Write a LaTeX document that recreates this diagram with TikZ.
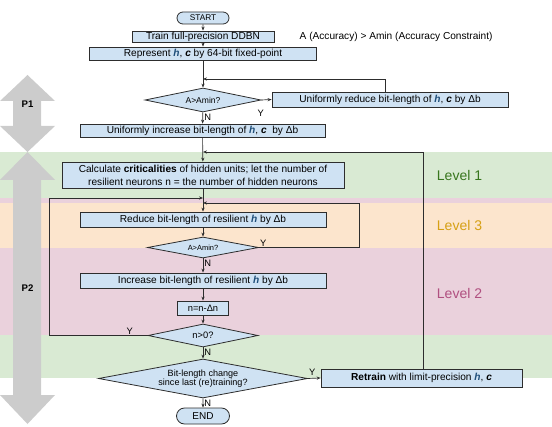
\documentclass[tikz,border=0pt]{standalone}
\usepackage{fontspec}
\setmainfont{Liberation Sans}
\usetikzlibrary{shapes.geometric,shapes.misc,arrows.meta}
\definecolor{boxfill}{RGB}{207,226,243}
\definecolor{boxline}{RGB}{45,45,45}
\definecolor{hblue}{RGB}{31,78,121}
\definecolor{bandG}{RGB}{217,234,211}
\definecolor{bandO}{RGB}{252,229,205}
\definecolor{bandP}{RGB}{234,209,220}
\definecolor{lvlG}{RGB}{56,118,29}
\definecolor{lvlO}{RGB}{214,160,20}
\definecolor{lvlP}{RGB}{176,80,128}
\definecolor{bigarrow}{RGB}{204,204,204}
\newcommand{\hvec}{\textcolor{hblue}{\textbf{\textit{h}}}}
\newcommand{\cvec}{\textbf{\textit{c}}}
\newcommand{\fs}[1]{\fontsize{#1}{#1}\selectfont}
\tikzset{
  flowbox/.style={draw=boxline,fill=boxfill,line width=0.6pt,inner sep=0pt,
    align=center,font=\fontsize{7.6}{9.75}\selectfont},
  decide/.style={draw=boxline,fill=boxfill,line width=0.6pt,diamond,inner sep=0pt,
    aspect=5,align=center},
  term/.style={draw=boxline,fill=boxfill,line width=0.6pt,rounded rectangle,inner sep=0pt},
  link/.style={draw=boxline,line width=0.5pt,-{Stealth[length=3pt,width=2.4pt]}},
  yn/.style={font=\fs{7},inner sep=0.8pt},
  lvl/.style={font=\fs{10.5}}
}

\begin{document}
\begin{tikzpicture}[x=0.75pt,y=-0.75pt]
  \useasboundingbox (0,0) rectangle (552,427);
  % --- Bandes de niveaux ---
  \fill[bandG] (0,152) rectangle (552,378);
  \fill[bandP] (0,198) rectangle (552,335);
  \fill[bandO] (0,203) rectangle (552,248);
  \foreach \y/\lab/\col in {175/Level 1/lvlG,225/Level 3/lvlO,293/Level 2/lvlP}
    \node[lvl,text=\col] at (459.5,\y) {\lab};
  % --- Grandes flèches P1 / P2 ---
  \fill[bigarrow] (27.5,75) -- (55,101) -- (41,101) -- (41,126) -- (55,126) -- (27.5,152)
    -- (0,126) -- (13,126) -- (13,101) -- (0,101) -- cycle;
  \fill[bigarrow] (27.5,152) -- (55,180) -- (41,180) -- (41,395) -- (55,395) -- (27.5,424)
    -- (0,395) -- (13,395) -- (13,180) -- (0,180) -- cycle;
  \node[font=\bfseries\fs{7.2}] (p1) at (27.5,104) {P1};
  \node[font=\bfseries\fs{7.2}] (p2) at (27.5,288) {P2};
  % --- Phase 1 ---
  \node[term,minimum width=39pt,minimum height=9pt,font=\fs{6.2}] (start) at (203,18) {START};
  \node[flowbox,minimum width=106.5pt,minimum height=8.25pt] (train) at (203,36.5) {Train full-precision DDBN};
  \node[anchor=west,font=\fs{7.6}] (note) at (295,36.5) {A (Accuracy) > Amin (Accuracy Constraint)};
  \node[flowbox,minimum width=170.25pt,minimum height=9.75pt] (repr) at (203,53.5) {Represent \hvec, \cvec\ by 64-bit fixed-point};
  \node[decide,minimum width=87pt,minimum height=18pt,font=\fs{6.4}] (d1) at (203,100) {A>Amin?};
  \node[flowbox,minimum width=177pt,minimum height=11.25pt] (ured) at (390,99.5) {Uniformly reduce bit-length of \hvec, \cvec\ by Δb};
  \node[flowbox,minimum width=183.75pt,minimum height=9.75pt] (uinc) at (202.5,130.5) {Uniformly increase bit-length of \hvec, \cvec\ \ by Δb};
  % --- Phase 2 ---
  \node[flowbox,minimum width=211.5pt,minimum height=19.5pt] (calc) at (203,175) {Calculate \textbf{criticalities} of hidden units; let the number of\\resilient neurons n = the number of hidden neurons};
  \node[flowbox,minimum width=184.5pt,minimum height=11.25pt] (red) at (203,219.5) {Reduce bit-length of resilient \hvec\ by Δb};
  \node[decide,minimum width=83.25pt,minimum height=15.75pt,font=\fs{5.6}] (d2) at (203,247.5) {A>Amin?};
  \node[flowbox,minimum width=184.5pt,minimum height=11.25pt] (inc) at (203,280.5) {Increase bit-length of resilient \hvec\ by Δb};
  \node[flowbox,minimum width=38.25pt,minimum height=10.5pt,font=\fs{7}] (ndec) at (203,308) {n=n-Δn};
  \node[decide,minimum width=82.5pt,minimum height=17.25pt,font=\fs{7}] (d3) at (203,335.5) {n>0?};
  \node[decide,minimum width=156.75pt,minimum height=29.25pt,font=\fontsize{6.8}{7.2}\selectfont] (d4) at (203,378.5) {Bit-length change\\since last (re)training?};
  \node[flowbox,minimum width=150.75pt,minimum height=13.5pt] (retr) at (421.5,378) {\textbf{Retrain} with limit-precision \hvec, \cvec};
  \node[term,minimum width=39.75pt,minimum height=12pt,font=\fs{7.5}] (end) at (203,416) {END};
  % --- Points de retour ---
  \coordinate (j1) at (203,79);
  \coordinate (f1) at (385,79);
  \coordinate (j2) at (203,152);
  \coordinate (f2) at (423,152);
  \coordinate (j3) at (203,198);
  \coordinate (lp1) at (49,198);
  \coordinate (j4) at (203,203);
  \coordinate (lp2) at (359,203);
  % --- Liaisons ---
  \draw[link] (start) -- (train);
  \draw[link] (train) -- (repr);
  \draw[link] (repr) -- (d1);
  \draw[link] (d1.east) -- (ured.west);
  \draw[link] (f1 |- ured.north) -- (f1) -- (j1);
  \draw[link] (d1) -- (uinc);
  \draw[link] (uinc) -- (calc);
  \draw[link] (f2 |- retr.north) -- (f2) -- (j2);
  \draw[link] (calc) -- (red);
  \draw[link] (d3.west) -| (lp1) -- (j3);
  \draw[link] (d2.east) -| (lp2) -- (j4);
  \draw[link] (red) -- (d2);
  \draw[link] (d2) -- (inc);
  \draw[link] (inc) -- (ndec);
  \draw[link] (ndec) -- (d3);
  \draw[link] (d3) -- (d4);
  \draw[link] (d4.east) -- (retr.west);
  \draw[link] (d4) -- (end);
  % --- Étiquettes O/N ---
  \node[yn,anchor=north] at ([xshift=-0.5pt,yshift=-6.5pt]d1.east) {Y};
  \node[yn,anchor=north west] at (d1.south) {N};
  \node[yn,anchor=south west] at (d2.east) {Y};
  \node[yn,anchor=north west] at (d2.south) {N};
  \node[yn,anchor=south east] at ([xshift=-10pt]d3.west) {Y};
  \node[yn,anchor=north west] at (d3.south) {N};
  \node[yn,anchor=south west] at ([yshift=1.5pt]d4.east) {Y};
  \node[yn,anchor=north west] at (d4.south) {N};
\end{tikzpicture}
\end{document}
